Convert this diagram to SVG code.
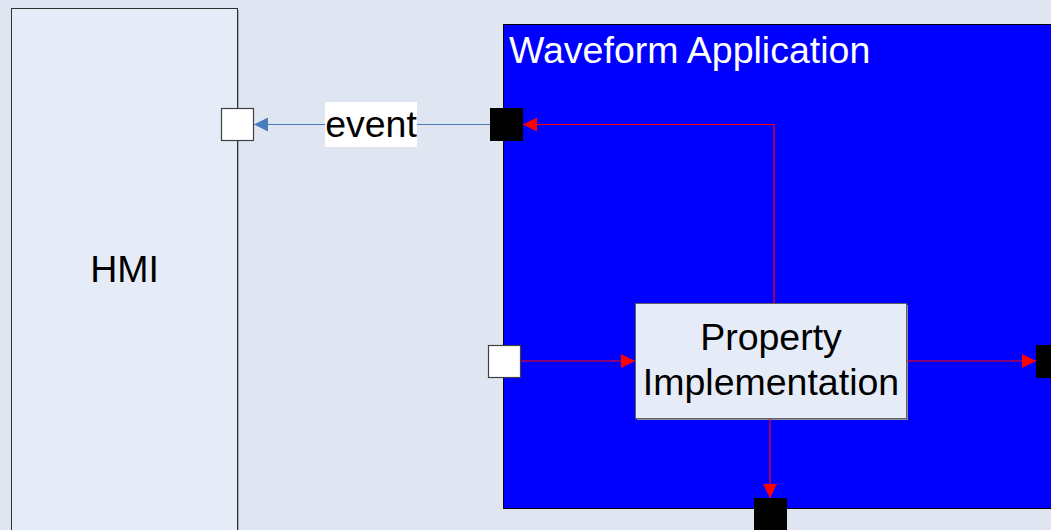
<svg xmlns="http://www.w3.org/2000/svg" width="1051" height="530" viewBox="0 0 1051 530">
<style>
.t{font-family:"Liberation Sans",Arial,sans-serif;font-size:37.5px}
.red{stroke:#ff0000;stroke-width:1.2;fill:none}
.wport{fill:#ffffff;stroke:#404040;stroke-width:1.2}
.bport{fill:#000000;stroke:#000000;stroke-width:1}
</style>
<defs>
<marker id="ar" markerWidth="14" markerHeight="14" refX="14" refY="7" orient="auto" markerUnits="userSpaceOnUse"><path d="M0,0L14,7L0,14Z" fill="#ff0000"/></marker>
<marker id="ab" markerWidth="14" markerHeight="14" refX="14" refY="7" orient="auto" markerUnits="userSpaceOnUse"><path d="M0,0L14,7L0,14Z" fill="#4a7ebb"/></marker>
</defs>
<rect width="1051" height="530" fill="#e0e6f1"/>
<g id="hmi">
<rect x="13" y="10" width="226" height="530" fill="#a9adb3"/>
<rect x="11.5" y="8.5" width="226" height="530" fill="#e6ecf7" stroke="#303030" stroke-width="1"/>
<text class="t" x="124.5" y="282" text-anchor="middle" fill="#000">HMI</text>
<rect class="wport" x="221.5" y="108.5" width="32" height="32"/>
</g>
<g id="waveform">
<rect x="503.5" y="24.5" width="560" height="484" fill="#0000ff" stroke="#000" stroke-width="1"/>
<text class="t" x="509" y="63" fill="#ffffff">Waveform Application</text>
<rect class="bport" x="490.5" y="108.5" width="32" height="32"/>
<rect class="wport" x="488.5" y="345.5" width="32" height="32"/>
<rect class="bport" x="1036.5" y="345.5" width="32" height="32"/>
<rect class="bport" x="754.5" y="498.5" width="32" height="32"/>
</g>
<g id="property">
<rect x="637" y="305" width="271" height="115" fill="#8a8e96"/>
<rect x="635.5" y="303.5" width="271" height="115" fill="#e6ecf7" stroke="#606060" stroke-width="1"/>
<text class="t" x="771" y="350" text-anchor="middle" fill="#000">Property</text>
<text class="t" x="771" y="395" text-anchor="middle" fill="#000">Implementation</text>
</g>
<g id="connectors">
<path class="red" d="M774,303V124.5H523" marker-end="url(#ar)"/>
<path class="red" d="M521,361H635" marker-end="url(#ar)"/>
<path class="red" d="M907,361H1036" marker-end="url(#ar)"/>
<path class="red" d="M770,419V498" marker-end="url(#ar)"/>
<path d="M490,124.5H254" stroke="#4a7ebb" stroke-width="1.2" fill="none" marker-end="url(#ab)"/>
<rect x="325" y="102" width="92" height="45" fill="#ffffff"/>
<text class="t" x="371" y="137" text-anchor="middle" fill="#000">event</text>
</g>
</svg>
